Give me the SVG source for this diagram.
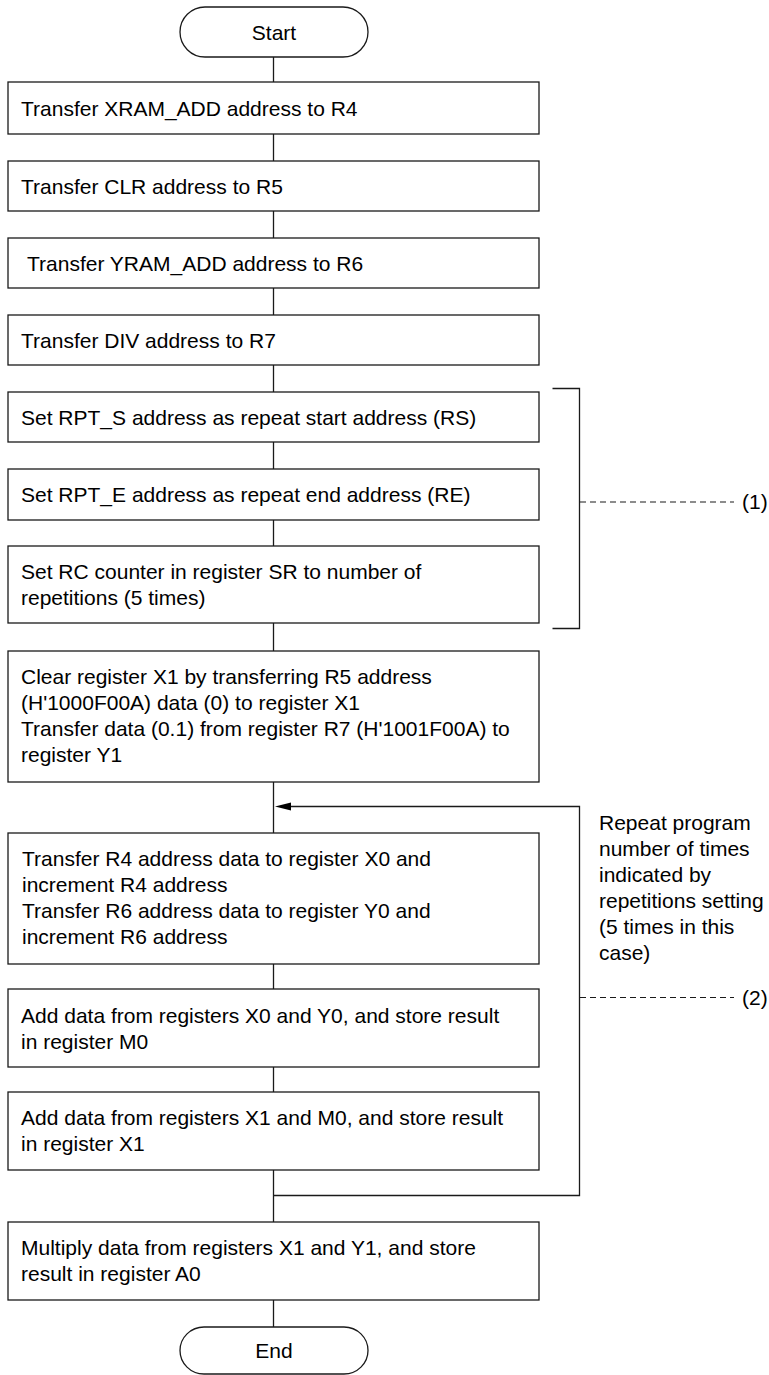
<svg xmlns="http://www.w3.org/2000/svg" width="769" height="1375" viewBox="0 0 769 1375">
<style>
.box{fill:#fff;stroke:#1a1a1a;stroke-width:1.3}
.term{fill:#fff;stroke:#1a1a1a;stroke-width:1.3}
.t{font-family:"Liberation Sans",Arial,sans-serif;font-size:21px;fill:#000}
.c{text-anchor:middle}
.ln{fill:none;stroke:#1a1a1a;stroke-width:1.3}
.dash{fill:none;stroke:#1a1a1a;stroke-width:1.2;stroke-dasharray:6 4}
</style>
<defs>
<marker id="arr" viewBox="0 0 16 8" refX="0" refY="4" markerWidth="16" markerHeight="8" markerUnits="userSpaceOnUse" orient="auto-start-reverse">
<polygon points="0,4 16,0 16,8" fill="#000"/>
</marker>
</defs>
<g id="connectors">
<line class="ln" x1="273.5" y1="57" x2="273.5" y2="82"/>
<line class="ln" x1="273.5" y1="134" x2="273.5" y2="161"/>
<line class="ln" x1="273.5" y1="211" x2="273.5" y2="238"/>
<line class="ln" x1="273.5" y1="288" x2="273.5" y2="315"/>
<line class="ln" x1="273.5" y1="365" x2="273.5" y2="392"/>
<line class="ln" x1="273.5" y1="442" x2="273.5" y2="469"/>
<line class="ln" x1="273.5" y1="520" x2="273.5" y2="546"/>
<line class="ln" x1="273.5" y1="623" x2="273.5" y2="651"/>
<line class="ln" x1="273.5" y1="782" x2="273.5" y2="833"/>
<line class="ln" x1="273.5" y1="964" x2="273.5" y2="989"/>
<line class="ln" x1="273.5" y1="1067" x2="273.5" y2="1092"/>
<line class="ln" x1="273.5" y1="1170" x2="273.5" y2="1222"/>
<line class="ln" x1="273.5" y1="1300" x2="273.5" y2="1327"/>
<path class="ln" d="M273.5,1195.5 H579.5 V806.5 H291"/>
<polygon points="275,806.5 291,802.5 291,810.5" fill="#000"/>
<path class="ln" d="M552.5,388.5 H579.5 V628.5 H552.5"/>
<line class="dash" x1="580" y1="502" x2="734" y2="502"/>
<line class="dash" x1="580" y1="997.5" x2="734" y2="997.5"/>
</g>
<g id="start">
<rect class="term" x="180" y="7" width="188" height="50" rx="25" ry="25"/>
<text class="t c" x="274" y="39.5">Start</text>
</g>
<g id="n1">
<rect class="box" x="8" y="82" width="531" height="52"/>
<text class="t" x="21" y="115.5">Transfer XRAM_ADD address to R4</text>
</g>
<g id="n2">
<rect class="box" x="8" y="161" width="531" height="50"/>
<text class="t" x="21" y="193.5">Transfer CLR address to R5</text>
</g>
<g id="n3">
<rect class="box" x="8" y="238" width="531" height="50"/>
<text class="t" x="27" y="270.5">Transfer YRAM_ADD address to R6</text>
</g>
<g id="n4">
<rect class="box" x="8" y="315" width="531" height="50"/>
<text class="t" x="21" y="347.5">Transfer DIV address to R7</text>
</g>
<g id="n5">
<rect class="box" x="8" y="392" width="531" height="50"/>
<text class="t" x="21" y="424.5">Set RPT_S address as repeat start address (RS)</text>
</g>
<g id="n6">
<rect class="box" x="8" y="469" width="531" height="51"/>
<text class="t" x="21" y="502">Set RPT_E address as repeat end address (RE)</text>
</g>
<g id="n7">
<rect class="box" x="8" y="546" width="531" height="77"/>
<text class="t" x="21" y="579">Set RC counter in register SR to number of</text>
<text class="t" x="21" y="605">repetitions (5 times)</text>
</g>
<g id="n8">
<rect class="box" x="8" y="651" width="531" height="131"/>
<text class="t" x="21" y="683.5">Clear register X1 by transferring R5 address</text>
<text class="t" x="21" y="709.5">(H'1000F00A) data (0) to register X1</text>
<text class="t" x="21" y="735.5">Transfer data (0.1) from register R7 (H'1001F00A) to</text>
<text class="t" x="21" y="761.5">register Y1</text>
</g>
<g id="n9">
<rect class="box" x="8" y="833" width="531" height="131"/>
<text class="t" x="22" y="866">Transfer R4 address data to register X0 and</text>
<text class="t" x="22" y="892">increment R4 address</text>
<text class="t" x="22" y="918">Transfer R6 address data to register Y0 and</text>
<text class="t" x="22" y="944">increment R6 address</text>
</g>
<g id="n10">
<rect class="box" x="8" y="989" width="531" height="78"/>
<text class="t" x="21" y="1022.5">Add data from registers X0 and Y0, and store result</text>
<text class="t" x="21" y="1048.5">in register M0</text>
</g>
<g id="n11">
<rect class="box" x="8" y="1092" width="531" height="78"/>
<text class="t" x="21" y="1124.5">Add data from registers X1 and M0, and store result</text>
<text class="t" x="21" y="1150.5">in register X1</text>
</g>
<g id="n12">
<rect class="box" x="8" y="1222" width="531" height="78"/>
<text class="t" x="21" y="1254.5">Multiply data from registers X1 and Y1, and store</text>
<text class="t" x="21" y="1280.5">result in register A0</text>
</g>
<g id="end">
<rect class="term" x="180" y="1327" width="188" height="47" rx="24" ry="24"/>
<text class="t c" x="274" y="1358">End</text>
</g>
<g id="notes">
<text class="t" x="742" y="509">(1)</text>
<text class="t" x="742" y="1004.5">(2)</text>
<text class="t" x="599" y="830">Repeat program</text>
<text class="t" x="599" y="856">number of times</text>
<text class="t" x="599" y="882">indicated by</text>
<text class="t" x="599" y="908">repetitions setting</text>
<text class="t" x="599" y="934">(5 times in this</text>
<text class="t" x="599" y="960">case)</text>
</g>
</svg>
